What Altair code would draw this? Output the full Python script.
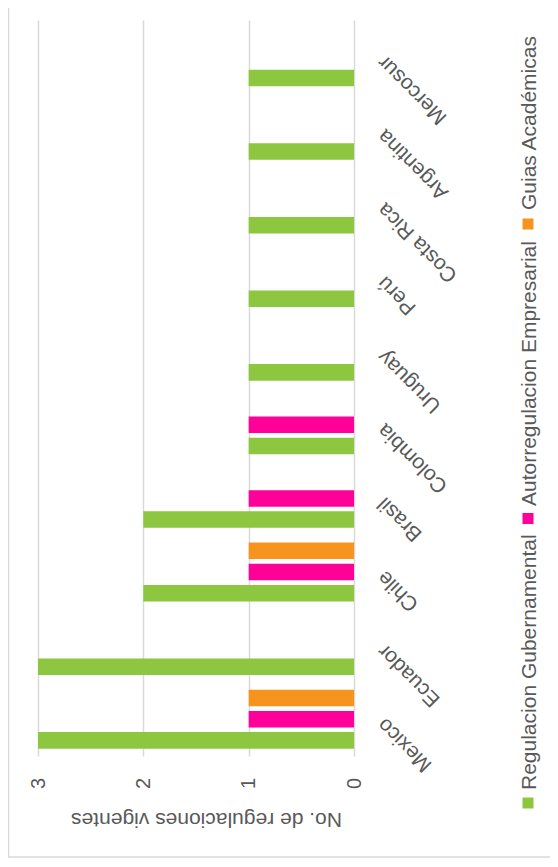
import altair as alt
import pandas as pd

countries = ["Mexico", "Ecuador", "Chile", "Brasil", "Colombia", "Uruguay",
             "Perú", "Costa Rica", "Argentina", "Mercosur"]
series = ["Regulacion Gubernamental", "Autorregulacion Empresarial", "Guias Académicas"]
colors = ["#8DC63F", "#FF0099", "#F7941D"]
gubernamental = [3, 3, 2, 2, 1, 1, 1, 1, 1, 1]
autorregulacion = [1, 0, 1, 1, 1, 0, 0, 0, 0, 0]
guias = [1, 0, 1, 0, 0, 0, 0, 0, 0, 0]
tick_values = [0, 1, 2, 3]
axis_title = "No. de regulaciones vigentes"

rows = []
for s, vals in zip(series, [gubernamental, autorregulacion, guias]):
    for c, v in zip(countries, vals):
        if v > 0:
            rows.append({"pais": c, "serie": s, "valor": v})
df = pd.DataFrame(rows)

FONT = "Liberation Sans"
TXT = "#595959"
W, H = 316, 736

bars = alt.Chart(df).mark_bar().encode(
    x=alt.X("valor:Q",
            scale=alt.Scale(domain=[0, 3], reverse=True, nice=False),
            axis=alt.Axis(values=tick_values, orient="bottom", format="d",
                          labelAngle=270, labelAlign="center", labelBaseline="middle",
                          labelPadding=27, ticks=False, tickSize=0, domain=False,
                          grid=True, gridColor="#d9d9d9", gridWidth=1.5,
                          labelFontSize=20, labelColor=TXT, labelFont=FONT,
                          title=axis_title, titleAngle=180, titleX=168, titleY=62,
                          titleAlign="center", titleBaseline="middle",
                          titleFontSize=21, titleFontWeight="normal",
                          titleColor=TXT, titleFont=FONT)),
    y=alt.Y("pais:N", sort=countries,
            scale=alt.Scale(reverse=True, paddingInner=0.2, paddingOuter=0.1),
            axis=alt.Axis(orient="right", labelAngle=225, labelAlign="right",
                          labelBaseline="middle", labelPadding=27, labelOffset=2,
                          ticks=False, domain=False, grid=False, title=None,
                          labelFontSize=21, labelColor=TXT, labelFont=FONT)),
    yOffset=alt.YOffset("serie:N", sort=series,
                        scale=alt.Scale(domain=series, reverse=True,
                                        paddingInner=0.22, paddingOuter=0)),
    color=alt.Color("serie:N", scale=alt.Scale(domain=series, range=colors), legend=None),
)

one = pd.DataFrame({"k": [0]})
frame = alt.Chart(one).mark_rect(fill=None, stroke="#d9d9d9", strokeWidth=1.5).encode(
    x=alt.value(-29.5), x2=alt.value(620), y=alt.value(-40), y2=alt.value(837))

square_y = [783, 498.5, 204]
text_y = [770, 486, 190]
legend_layers = []
for s, c, sy, ty in zip(series, colors, square_y, text_y):
    legend_layers.append(
        alt.Chart(one).mark_square(size=121, color=c, opacity=1).encode(
            x=alt.value(490), y=alt.value(sy)))
    legend_layers.append(
        alt.Chart(one).mark_text(angle=270, align="left", baseline="middle",
                                 fontSize=21, font=FONT, color=TXT).encode(
            x=alt.value(492), y=alt.value(ty), text=alt.value(s)))

chart = alt.layer(frame, bars, *legend_layers).properties(
    width=W, height=H,
    autosize=alt.AutoSizeParams(type="none"),
    padding={"left": 30, "top": 12, "right": 196, "bottom": 102},
    background="white",
).configure_view(stroke=None)

chart.save("out.html", embed_options={"renderer": "svg", "actions": False})
